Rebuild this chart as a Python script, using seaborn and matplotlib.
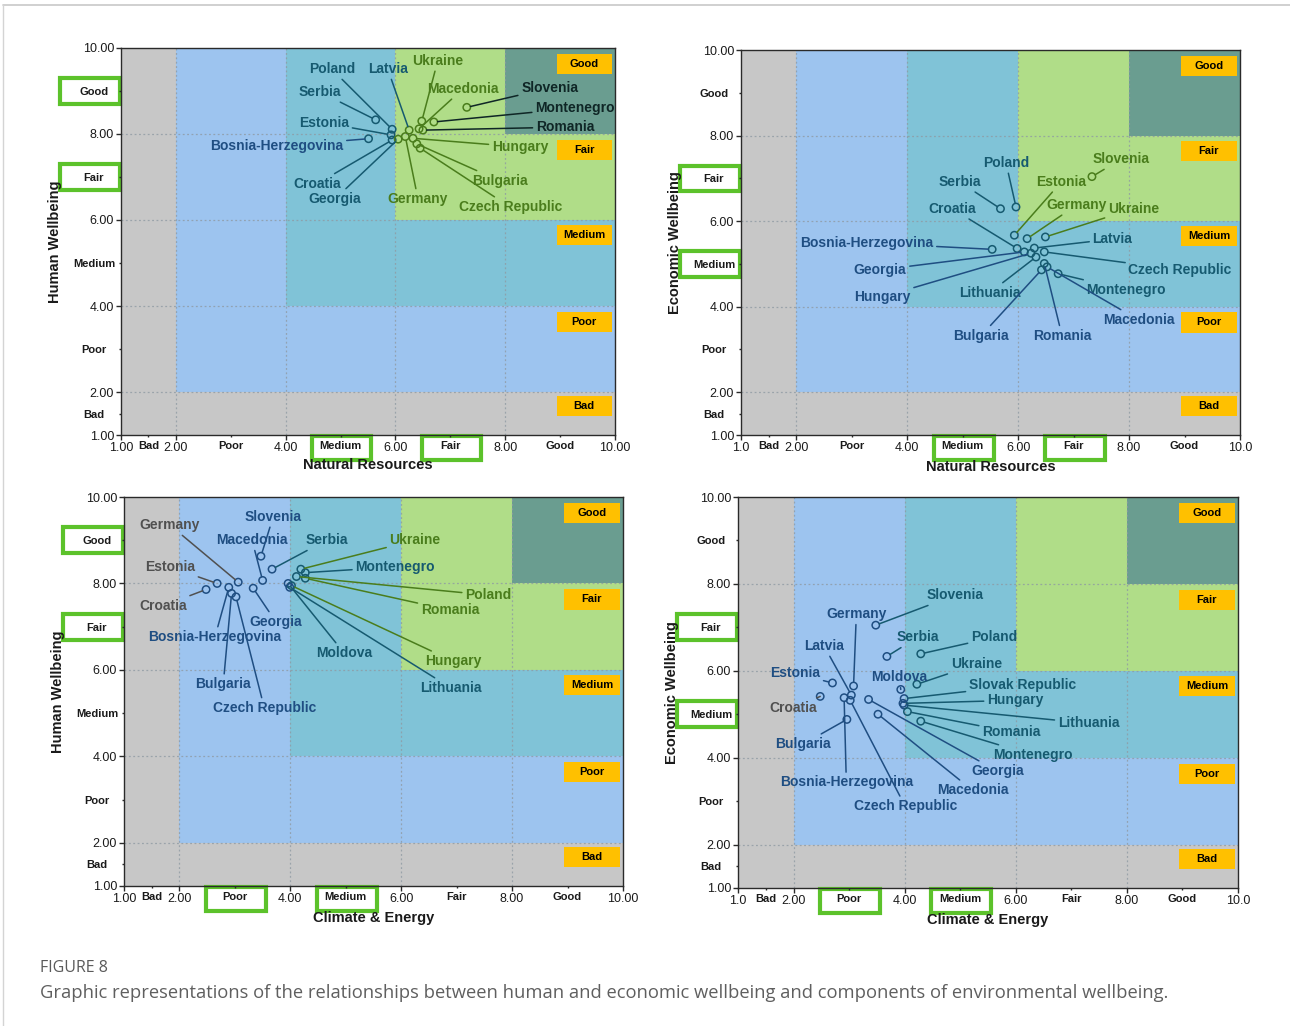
import matplotlib
matplotlib.use("Agg")
import matplotlib.pyplot as plt
import matplotlib.transforms as mtransforms
from matplotlib.patches import Rectangle
from matplotlib.lines import Line2D
import pandas as pd
import seaborn as sns

sns.set_theme(style="white")
plt.rcParams["font.family"] = ["Liberation Sans", "DejaVu Sans"]

# ---------------------------------------------------------------- data
# Natural Resources vs Human Wellbeing
nr_hw_countries = ["Poland", "Latvia", "Ukraine", "Serbia", "Macedonia", "Slovenia",
                   "Montenegro", "Estonia", "Romania", "Bosnia-Herzegovina", "Hungary",
                   "Croatia", "Bulgaria", "Georgia", "Germany", "Czech Republic"]
nr_hw_x = [5.94, 6.25, 6.48, 5.64, 6.43, 7.30, 6.70, 5.92, 6.50, 5.51, 6.32,
           5.94, 6.39, 6.05, 6.18, 6.45]
nr_hw_y = [8.11, 8.09, 8.30, 8.33, 8.12, 8.62, 8.28, 7.98, 8.09, 7.89, 7.90,
           7.86, 7.77, 7.88, 7.94, 7.67]

# Natural Resources vs Economic Wellbeing
nr_ew_countries = ["Slovenia", "Poland", "Serbia", "Estonia", "Croatia", "Germany",
                   "Ukraine", "Bosnia-Herzegovina", "Latvia", "Georgia", "Czech Republic",
                   "Hungary", "Lithuania", "Montenegro", "Macedonia", "Bulgaria", "Romania"]
nr_ew_x = [7.33, 5.96, 5.68, 5.93, 5.98, 6.16, 6.49, 5.53, 6.29, 6.11, 6.47,
           6.23, 6.32, 6.72, 6.52, 6.42, 6.47]
nr_ew_y = [7.04, 6.33, 6.29, 5.67, 5.36, 5.59, 5.63, 5.34, 5.37, 5.28, 5.28,
           5.25, 5.16, 4.77, 4.93, 4.86, 5.01]

# Climate & Energy vs Human Wellbeing
ce_hw_countries = ["Germany", "Slovenia", "Macedonia", "Serbia", "Ukraine", "Estonia",
                   "Montenegro", "Poland", "Croatia", "Romania", "Georgia",
                   "Bosnia-Herzegovina", "Moldova", "Hungary", "Bulgaria", "Lithuania",
                   "Czech Republic"]
ce_hw_x = [3.06, 3.47, 3.50, 3.67, 4.19, 2.68, 4.27, 4.11, 2.48, 4.27, 3.33,
           2.89, 3.96, 4.02, 2.94, 3.99, 3.02]
ce_hw_y = [8.03, 8.63, 8.07, 8.33, 8.33, 8.00, 8.25, 8.16, 7.86, 8.12, 7.89,
           7.91, 8.00, 7.95, 7.77, 7.91, 7.69]

# Climate & Energy vs Economic Wellbeing
ce_ew_countries = ["Slovenia", "Germany", "Serbia", "Poland", "Latvia", "Ukraine",
                   "Estonia", "Moldova", "Slovak Republic", "Hungary", "Croatia",
                   "Lithuania", "Romania", "Bulgaria", "Montenegro", "Georgia",
                   "Bosnia-Herzegovina", "Macedonia", "Czech Republic"]
ce_ew_x = [3.48, 3.08, 3.68, 4.29, 3.04, 4.22, 2.70, 3.93, 3.99, 3.97, 2.48,
           3.99, 4.05, 2.96, 4.29, 3.35, 2.91, 3.52, 3.02]
ce_ew_y = [7.05, 5.65, 6.33, 6.39, 5.44, 5.69, 5.72, 5.57, 5.36, 5.25, 5.41,
           5.21, 5.06, 4.88, 4.84, 5.34, 5.38, 5.00, 5.32]

# category names of the five bands
band_names = ["Bad", "Poor", "Medium", "Fair", "Good"]
band_mid = [1.5, 3, 5, 7, 9]

# ---------------------------------------------------------------- label placement
nr_hw_label_xy = {
    "Poland": (4.84, 9.51), "Latvia": (5.86, 9.51), "Ukraine": (6.77, 9.70),
    "Serbia": (4.62, 8.98), "Macedonia": (7.23, 9.05), "Slovenia": (8.81, 9.07),
    "Montenegro": (9.27, 8.60), "Estonia": (4.70, 8.26), "Romania": (9.09, 8.16),
    "Bosnia-Herzegovina": (3.84, 7.72), "Hungary": (8.27, 7.70), "Croatia": (4.57, 6.84),
    "Bulgaria": (7.90, 6.91), "Georgia": (4.90, 6.49), "Germany": (6.41, 6.49),
    "Czech Republic": (8.09, 6.30),
}
nr_ew_label_xy = {
    "Slovenia": (7.86, 7.45), "Poland": (5.78, 7.36), "Serbia": (4.94, 6.92),
    "Estonia": (6.78, 6.92), "Croatia": (4.81, 6.29), "Germany": (7.06, 6.38),
    "Ukraine": (8.08, 6.29), "Bosnia-Herzegovina": (3.27, 5.49), "Latvia": (7.70, 5.58),
    "Georgia": (3.51, 4.86), "Czech Republic": (8.92, 4.86), "Hungary": (3.55, 4.23),
    "Lithuania": (5.48, 4.32), "Montenegro": (7.95, 4.39), "Macedonia": (8.17, 3.69),
    "Bulgaria": (5.33, 3.32), "Romania": (6.79, 3.32),
}
ce_hw_label_xy = {
    "Germany": (1.83, 9.35), "Slovenia": (3.69, 9.54), "Macedonia": (3.31, 9.00),
    "Serbia": (4.65, 9.00), "Ukraine": (6.25, 9.00), "Estonia": (1.83, 8.38),
    "Montenegro": (5.89, 8.38), "Poland": (7.57, 7.73), "Croatia": (1.70, 7.48),
    "Romania": (6.88, 7.38), "Georgia": (3.74, 7.11), "Bosnia-Herzegovina": (2.64, 6.76),
    "Moldova": (4.97, 6.39), "Hungary": (6.94, 6.20), "Bulgaria": (2.79, 5.67),
    "Lithuania": (6.90, 5.58), "Czech Republic": (3.53, 5.12),
}
ce_ew_label_xy = {
    "Slovenia": (4.91, 7.74), "Germany": (3.13, 7.30), "Serbia": (4.23, 6.77),
    "Poland": (5.61, 6.77), "Latvia": (2.55, 6.57), "Ukraine": (5.29, 6.15),
    "Estonia": (2.03, 5.94), "Moldova": (3.90, 5.85), "Slovak Republic": (6.12, 5.67),
    "Hungary": (5.99, 5.32), "Croatia": (1.99, 5.14), "Lithuania": (7.31, 4.79),
    "Romania": (5.92, 4.59), "Bulgaria": (2.17, 4.31), "Montenegro": (6.30, 4.06),
    "Georgia": (5.67, 3.69), "Bosnia-Herzegovina": (2.95, 3.43), "Macedonia": (5.22, 3.25),
    "Czech Republic": (4.01, 2.88),
}

# ---------------------------------------------------------------- styling
zone_fill = {"bad": "#c7c7c7", "poor": "#9dc4ef", "medium": "#80c3d7",
             "fair": "#b0dd88", "good": "#6a9d90"}
zone_ink = {"bad": "#505050", "poor": "#1f4e82", "medium": "#165a70",
            "fair": "#4a7d1c", "good": "#0f2626"}
ORANGE = "#ffc000"
HILITE = "#5cc22b"


def zone(x, y):
    if x < 2 or y < 2:
        return "bad"
    if x >= 8 and y >= 8:
        return "good"
    if x >= 6 and y >= 6:
        return "fair"
    if x >= 4 and y >= 4:
        return "medium"
    return "poor"


panels = [
    dict(rect=[121 / 1290, 1 - 435 / 1026, 494 / 1290, 387 / 1026],
         countries=nr_hw_countries, x=nr_hw_x, y=nr_hw_y, label_xy=nr_hw_label_xy,
         xlabel="Natural Resources", ylabel="Human Wellbeing", short_ends=False,
         x_hi=["Medium", "Fair"], y_hi=["Good", "Fair"], xlab_off=30),
    dict(rect=[741 / 1290, 1 - 435 / 1026, 499 / 1290, 385 / 1026],
         countries=nr_ew_countries, x=nr_ew_x, y=nr_ew_y, label_xy=nr_ew_label_xy,
         xlabel="Natural Resources", ylabel="Economic Wellbeing", short_ends=True,
         x_hi=["Medium", "Fair"], y_hi=["Fair", "Medium"], xlab_off=32),
    dict(rect=[124 / 1290, 1 - 886 / 1026, 499 / 1290, 389 / 1026],
         countries=ce_hw_countries, x=ce_hw_x, y=ce_hw_y, label_xy=ce_hw_label_xy,
         xlabel="Climate & Energy", ylabel="Human Wellbeing", short_ends=False,
         x_hi=["Poor", "Medium"], y_hi=["Good", "Fair"], xlab_off=32),
    dict(rect=[738 / 1290, 1 - 888 / 1026, 500 / 1290, 391 / 1026],
         countries=ce_ew_countries, x=ce_ew_x, y=ce_ew_y, label_xy=ce_ew_label_xy,
         xlabel="Climate & Energy", ylabel="Economic Wellbeing", short_ends=True,
         x_hi=["Poor", "Medium"], y_hi=["Fair", "Medium"], xlab_off=32),
]

fig = plt.figure(figsize=(12.9, 10.26), dpi=100)
fig.patch.set_facecolor("white")

for p in panels:
    ax = fig.add_axes(p["rect"])
    ax.set_xlim(1, 10)
    ax.set_ylim(1, 10)
    w_px = p["rect"][2] * 1290
    h_px = p["rect"][3] * 1026

    # nested quality bands
    ax.add_patch(Rectangle((1, 1), 9, 9, fc=zone_fill["bad"], ec="none", zorder=0.1))
    for lo, name in [(2, "poor"), (4, "medium"), (6, "fair"), (8, "good")]:
        ax.add_patch(Rectangle((lo, lo), 10 - lo, 10 - lo, fc=zone_fill[name],
                               ec="none", zorder=0.1))
    for v in [2, 4, 6, 8]:
        ax.axvline(v, color="#8f9aa3", lw=0.9, ls=(0, (1.5, 2)), zorder=1, alpha=0.8)
        ax.axhline(v, color="#8f9aa3", lw=0.9, ls=(0, (1.5, 2)), zorder=1, alpha=0.8)

    # band tags on the right
    for name, cy in zip(["Good", "Fair", "Medium", "Poor", "Bad"],
                        [9.63, 7.63, 5.65, 3.63, 1.67]):
        ax.add_patch(Rectangle((8.94, cy - 0.235), 1.0, 0.47, fc=ORANGE, ec="none",
                               zorder=2))
        ax.text(9.44, cy, name, ha="center", va="center", fontsize=8,
                fontweight="bold", color="black", zorder=2.1)

    # points
    df = pd.DataFrame({"country": p["countries"], "x": p["x"], "y": p["y"]})
    edge = [zone_ink[zone(a, b)] for a, b in zip(df["x"], df["y"])]
    sns.scatterplot(data=df, x="x", y="y", ax=ax, marker="o", s=28, color="k",
                    facecolor="none", edgecolor=edge, linewidth=1.1, zorder=3,
                    legend=False)

    # country labels with leader lines
    for c, px, py in zip(df["country"], df["x"], df["y"]):
        tx, ty = p["label_xy"][c]
        ink = zone_ink[zone(tx, ty)]
        ax.annotate(c, xy=(px, py), xytext=(tx, ty), ha="center", va="center",
                    fontsize=10, fontweight="bold", color=ink, zorder=4,
                    arrowprops=dict(arrowstyle="-", color=ink, lw=1.1,
                                    shrinkA=0, shrinkB=2.7))

    # axes, ticks and tick labels
    for s in ax.spines.values():
        s.set_visible(True)
        s.set_color("#2a2a2a")
        s.set_linewidth(1.0)
    major = [1, 2, 4, 6, 8, 10]
    xmaj = ["1.0" if p["short_ends"] else "1.00", "2.00", "4.00", "6.00", "8.00",
            "10.0" if p["short_ends"] else "10.00"]
    ymaj = ["1.00", "2.00", "4.00", "6.00", "8.00", "10.00"]
    ax.set_xticks(major, labels=xmaj)
    ax.set_yticks(major, labels=ymaj)
    ax.set_xticks(band_mid, labels=band_names, minor=True)
    ax.set_yticks(band_mid, labels=band_names, minor=True)
    ax.tick_params(which="both", bottom=True, left=True, top=False, right=False,
                   direction="out", color="#2a2a2a", width=1)
    ax.tick_params(which="major", length=3.5, labelsize=9, pad=1.5,
                   labelcolor="#1a1a1a")
    ax.tick_params(which="minor", length=1.5, labelsize=8, labelcolor="#1a1a1a")
    ax.tick_params(axis="x", which="minor", pad=3.0)
    ax.tick_params(axis="y", which="minor", pad=18)
    for lbl in ax.get_xticklabels(minor=True) + ax.get_yticklabels(minor=True):
        lbl.set_fontweight("bold")
    for lbl in ax.get_yticklabels(minor=True):
        lbl.set_horizontalalignment("center")

    # green highlight frames around selected category names
    ytr = mtransforms.blended_transform_factory(ax.transAxes, ax.transData)
    for name in p["y_hi"]:
        v = band_mid[band_names.index(name)]
        ax.add_patch(Rectangle((-61 / w_px, v - 0.3), 60 / w_px, 0.6, transform=ytr,
                               fc="white", ec=HILITE, lw=3, clip_on=False, zorder=0.3))
    xtr = mtransforms.blended_transform_factory(ax.transData, ax.transAxes)
    for name in p["x_hi"]:
        v = band_mid[band_names.index(name)]
        ax.add_patch(Rectangle((v - 0.52, -25 / h_px), 1.08, 24 / h_px, transform=xtr,
                               fc="white", ec=HILITE, lw=3, clip_on=False, zorder=0.3))

    ax.set_xlabel(p["xlabel"], fontsize=10.5, fontweight="bold", color="#1a1a1a")
    ax.set_ylabel(p["ylabel"], fontsize=10.5, fontweight="bold", color="#1a1a1a")
    ax.xaxis.label.set_va("center")
    ax.yaxis.label.set_va("center")
    ax.xaxis.set_label_coords(0.5, -p["xlab_off"] / h_px)
    ax.yaxis.set_label_coords(-66 / w_px, 0.5)

# card frame and caption
fig.add_artist(Line2D([3 / 1290, 1], [1 - 5 / 1026, 1 - 5 / 1026], color="#c8c8c8",
                      lw=1.2, transform=fig.transFigure))
fig.add_artist(Line2D([3 / 1290, 3 / 1290], [0, 1 - 5 / 1026], color="#d4d4d4",
                      lw=1.0, transform=fig.transFigure))
fig.text(40 / 1290, 1 - 968 / 1026, "FIGURE 8", fontsize=11.5, color="#5a5a5a",
         family=["Open Sans", "DejaVu Sans"], ha="left", va="center")
fig.text(40 / 1290, 1 - 993 / 1026,
         "Graphic representations of the relationships between human and economic "
         "wellbeing and components of environmental wellbeing.",
         fontsize=13.2, color="#5f5f5f", family=["Open Sans", "DejaVu Sans"],
         ha="left", va="center")

fig.savefig("out.png", dpi=100, facecolor="white")
